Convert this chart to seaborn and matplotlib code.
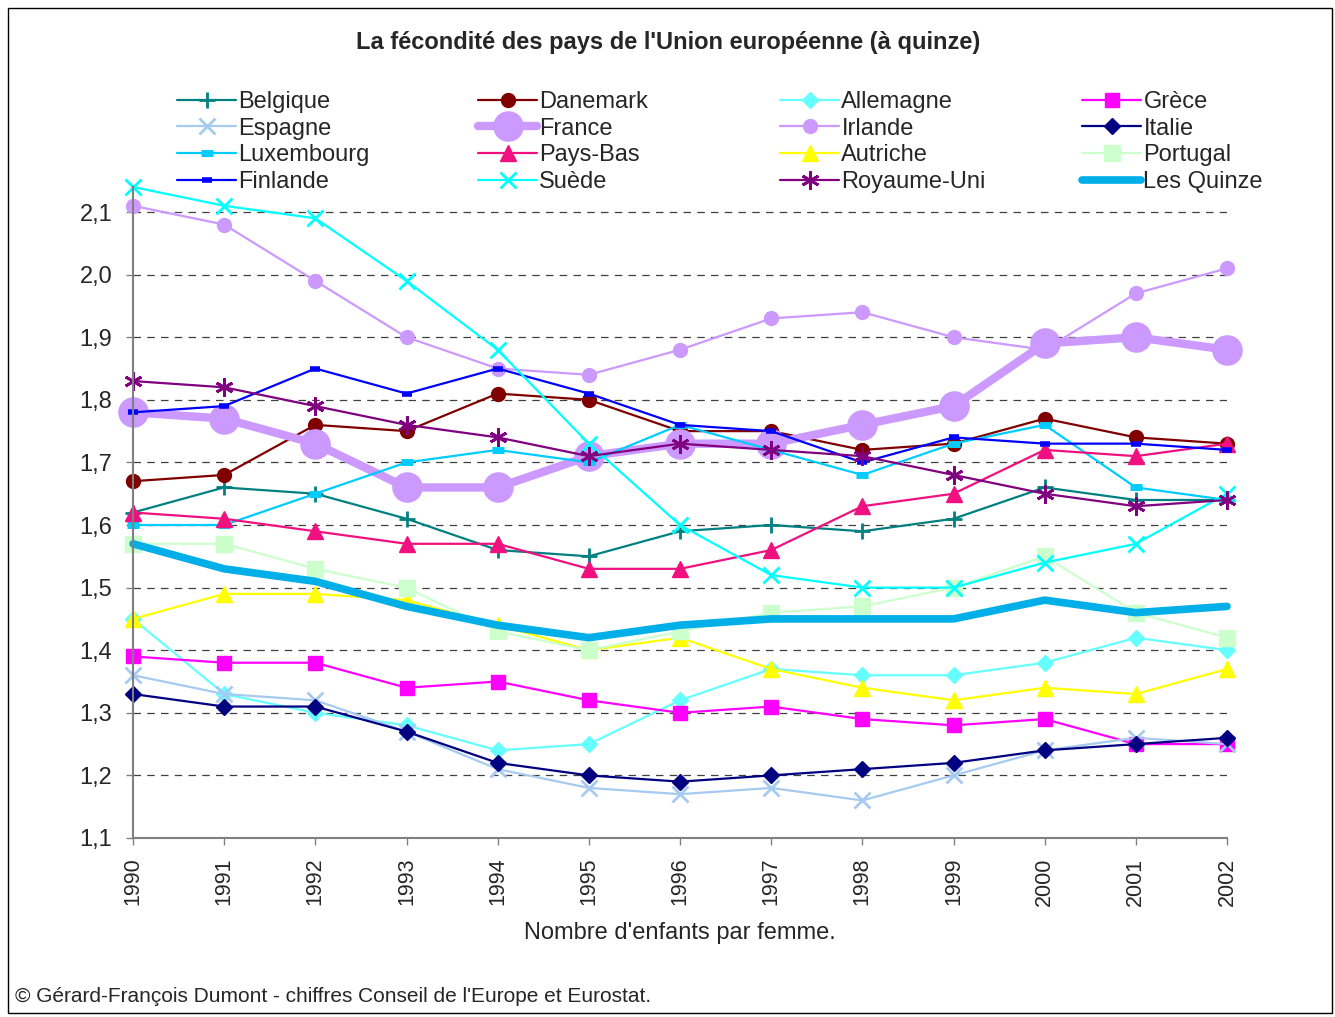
import matplotlib
matplotlib.use("Agg")
import matplotlib.pyplot as plt
import matplotlib.patches as patches
import numpy as np
import pandas as pd
import seaborn as sns

# Données : indicateur conjoncturel de fécondité, 1990-2002
years = list(range(1990, 2003))

belgique = [1.62, 1.66, 1.65, 1.61, 1.56, 1.55, 1.59, 1.60, 1.59, 1.61, 1.66, 1.64, 1.64]
danemark = [1.67, 1.68, 1.76, 1.75, 1.81, 1.80, 1.75, 1.75, 1.72, 1.73, 1.77, 1.74, 1.73]
allemagne = [1.45, 1.33, 1.30, 1.28, 1.24, 1.25, 1.32, 1.37, 1.36, 1.36, 1.38, 1.42, 1.40]
grece = [1.39, 1.38, 1.38, 1.34, 1.35, 1.32, 1.30, 1.31, 1.29, 1.28, 1.29, 1.25, 1.25]
espagne = [1.36, 1.33, 1.32, 1.27, 1.21, 1.18, 1.17, 1.18, 1.16, 1.20, 1.24, 1.26, 1.25]
france = [1.78, 1.77, 1.73, 1.66, 1.66, 1.71, 1.73, 1.73, 1.76, 1.79, 1.89, 1.90, 1.88]
irlande = [2.11, 2.08, 1.99, 1.90, 1.85, 1.84, 1.88, 1.93, 1.94, 1.90, 1.88, 1.97, 2.01]
italie = [1.33, 1.31, 1.31, 1.27, 1.22, 1.20, 1.19, 1.20, 1.21, 1.22, 1.24, 1.25, 1.26]
luxembourg = [1.60, 1.60, 1.65, 1.70, 1.72, 1.70, 1.76, 1.72, 1.68, 1.73, 1.76, 1.66, 1.64]
pays_bas = [1.62, 1.61, 1.59, 1.57, 1.57, 1.53, 1.53, 1.56, 1.63, 1.65, 1.72, 1.71, 1.73]
autriche = [1.45, 1.49, 1.49, 1.48, 1.44, 1.40, 1.42, 1.37, 1.34, 1.32, 1.34, 1.33, 1.37]
portugal = [1.57, 1.57, 1.53, 1.50, 1.43, 1.40, 1.43, 1.46, 1.47, 1.50, 1.55, 1.46, 1.42]
finlande = [1.78, 1.79, 1.85, 1.81, 1.85, 1.81, 1.76, 1.75, 1.70, 1.74, 1.73, 1.73, 1.72]
suede = [2.14, 2.11, 2.09, 1.99, 1.88, 1.73, 1.60, 1.52, 1.50, 1.50, 1.54, 1.57, 1.65]
royaume_uni = [1.83, 1.82, 1.79, 1.76, 1.74, 1.71, 1.73, 1.72, 1.71, 1.68, 1.65, 1.63, 1.64]
les_quinze = [1.57, 1.53, 1.51, 1.47, 1.44, 1.42, 1.44, 1.45, 1.45, 1.45, 1.48, 1.46, 1.47]

yticks = [1.1, 1.2, 1.3, 1.4, 1.5, 1.6, 1.7, 1.8, 1.9, 2.0, 2.1]

# (nom, valeurs, couleur, marqueur, taille, épaisseur de ligne, épaisseur du marqueur)
series = [
    ("Belgique", belgique, "#008080", "+", 12, 1.6, 2),
    ("Danemark", danemark, "#800000", "o", 10, 1.6, 1),
    ("Allemagne", allemagne, "#66FFFF", "D", 8, 1.6, 1),
    ("Grèce", grece, "#FF00FF", "s", 10, 1.6, 1),
    ("Espagne", espagne, "#A6CAF0", "x", 11, 1.6, 2),
    ("France", france, "#CC99FF", "o", 21, 6, 1),
    ("Irlande", irlande, "#CC99FF", "o", 10, 1.6, 1),
    ("Italie", italie, "#000080", "D", 8, 1.6, 1),
    ("Luxembourg", luxembourg, "#00CCFF", "_", 9, 1.6, 5),
    ("Pays-Bas", pays_bas, "#F0107F", "^", 11, 1.6, 1),
    ("Autriche", autriche, "#FFFF00", "^", 11, 1.6, 1),
    ("Portugal", portugal, "#CCFFCC", "s", 12, 1.6, 1),
    ("Finlande", finlande, "#0000FF", "_", 7, 1.6, 4),
    ("Suède", suede, "#00FFFF", "x", 12, 1.6, 2),
    ("Royaume-Uni", royaume_uni, "#800080", (6, 2, 0), 13, 1.6, 2),
    ("Les Quinze", les_quinze, "#00AEE8", None, 0, 5.5, 1),
]

sns.set_theme(style="white")
plt.rcParams["font.family"] = ["Liberation Sans", "DejaVu Sans"]

fig = plt.figure(figsize=(13.35, 10.17), dpi=100)
ax = fig.add_axes([133 / 1335, 1 - 838 / 1017, (1227 - 133) / 1335, (838 - 187) / 1017])

handles = {}
for name, vals, color, marker, ms, lw, mew in series:
    df = pd.DataFrame({"annee": years, "val": vals})
    sns.lineplot(data=df, x="annee", y="val", ax=ax, color=color, marker=marker,
                 markersize=ms, linewidth=lw, markeredgewidth=mew,
                 markeredgecolor=color, markerfacecolor=color,
                 clip_on=False, label=name, legend=False)
    handles[name] = ax.lines[-1]

ax.set_xlim(1990, 2002)
ax.set_ylim(1.1, 2.14)
ax.set_xticks(years)
ax.set_xticklabels([str(y) for y in years], rotation=90, fontsize=15.5)
ax.set_yticks(yticks)
ax.set_yticklabels([f"{v:.1f}".replace(".", ",") for v in yticks], fontsize=17)
ax.tick_params(axis="both", direction="out", length=5, width=1, color="#808080")
ax.tick_params(axis="x", bottom=True, pad=9)
ax.tick_params(axis="y", left=True, pad=10)

for y in yticks[1:]:
    ax.axhline(y, color="#404040", lw=0.9, ls=(0, (6, 5)), zorder=0)

for s in ["top", "right"]:
    ax.spines[s].set_visible(False)
for s in ["left", "bottom"]:
    ax.spines[s].set_color("#808080")
    ax.spines[s].set_linewidth(1.5)

ax.set_xlabel("")
ax.set_ylabel("")
fig.text(680 / 1335, 1 - 933 / 1017, "Nombre d'enfants par femme.", fontsize=17,
         ha="center", va="center")

fig.text(668 / 1335, 1 - 42 / 1017, "La fécondité des pays de l'Union européenne (à quinze)",
         fontsize=17, fontweight="bold", ha="center", va="center")

fig.text(15 / 1335, 1 - 997 / 1017,
         "© Gérard-François Dumont - chiffres Conseil de l'Europe et Eurostat.",
         fontsize=15, ha="left", va="center")

# Légende en 4 colonnes, remplie ligne par ligne
names = [s[0] for s in series]
col_x = [177, 478, 780, 1082]
for c in range(4):
    col_names = names[c::4]
    leg = fig.legend([handles[n] for n in col_names], col_names, loc="upper left",
                     bbox_to_anchor=(col_x[c] / 1335, 1 - 91 / 1017),
                     frameon=False, fontsize=17, borderpad=0, borderaxespad=0,
                     handlelength=2.5, handletextpad=0.1, labelspacing=0.2)

fig.patches.append(patches.Rectangle((8 / 1335, 4 / 1017), 1324 / 1335, 1005 / 1017,
                                     transform=fig.transFigure, fill=False,
                                     edgecolor="black", lw=1))

fig.savefig("out.png", dpi=100)
